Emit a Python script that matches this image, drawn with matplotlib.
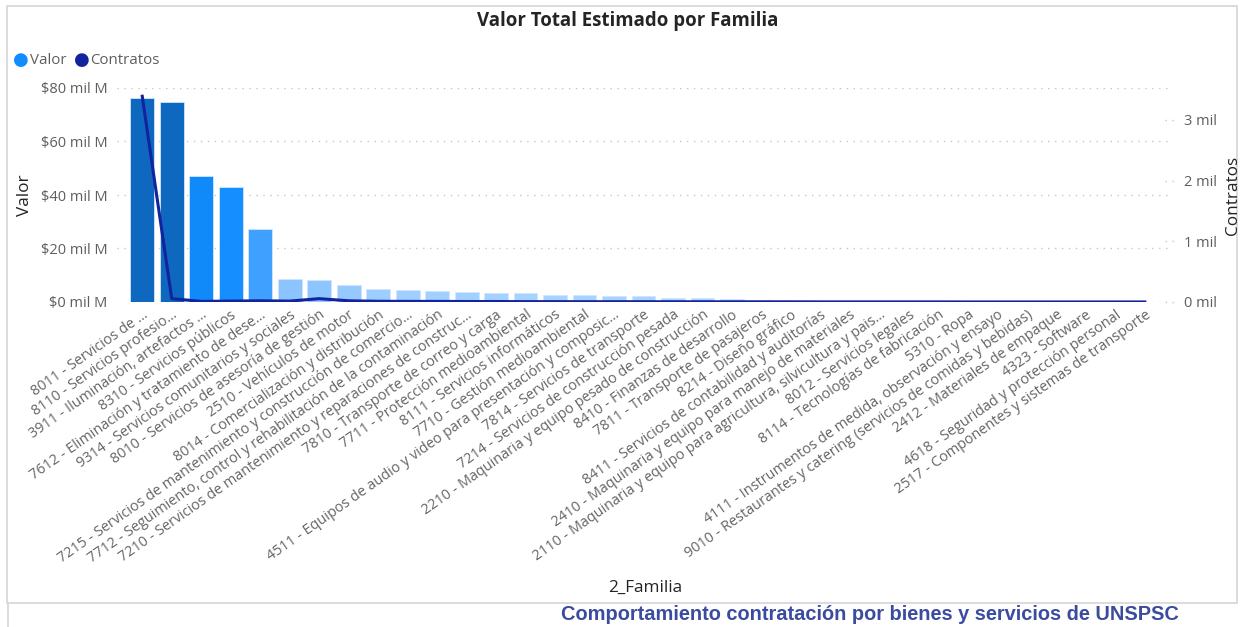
import numpy as np
import matplotlib.pyplot as plt
from matplotlib.colors import LinearSegmentedColormap
from matplotlib.patches import Rectangle
from matplotlib.lines import Line2D
import matplotlib.transforms as mtransforms

plt.rcParams['font.family'] = ['Open Sans', 'DejaVu Sans']

# datos
familias = [
    "8011 - Servicios de ...",
    "8110 - Servicios profesio...",
    "3911 - Iluminación, artefactos ...",
    "8310 - Servicios públicos",
    "7612 - Eliminación y tratamiento de dese...",
    "9314 - Servicios comunitarios y sociales",
    "8010 - Servicios de asesoría de gestión",
    "2510 - Vehículos de motor",
    "8014 - Comercialización y distribución",
    "7215 - Servicios de mantenimiento y construcción de comercio...",
    "7712 - Seguimiento, control y rehabilitación de la contaminación",
    "7210 - Servicios de mantenimiento y reparaciones de construc...",
    "7810 - Transporte de correo y carga",
    "7711 - Protección medioambiental",
    "8111 - Servicios informáticos",
    "7710 - Gestión medioambiental",
    "4511 - Equipos de audio y video para presentación y composic...",
    "7814 - Servicios de transporte",
    "7214 - Servicios de construcción pesada",
    "2210 - Maquinaria y equipo pesado de construcción",
    "8410 - Finanzas de desarrollo",
    "7811 - Transporte de pasajeros",
    "8214 - Diseño gráfico",
    "8411 - Servicios de contabilidad y auditorías",
    "2410 - Maquinaria y equipo para manejo de materiales",
    "2110 - Maquinaria y equipo para agricultura, silvicultura y pais...",
    "8012 - Servicios legales",
    "8114 - Tecnologías de fabricación",
    "5310 - Ropa",
    "4111 - Instrumentos de medida, observación y ensayo",
    "9010 - Restaurantes y catering (servicios de comidas y bebidas)",
    "2412 - Materiales de empaque",
    "4323 - Software",
    "4618 - Seguridad y protección personal",
    "2517 - Componentes y sistemas de transporte",
]
# valor en miles de millones ($ mil M)
valor = [76.3, 74.8, 47.0, 42.9, 27.4, 8.7, 8.2, 6.4, 4.7, 4.3, 4.0, 3.7,
         3.4, 3.2, 2.5, 2.6, 2.4, 2.2, 1.5, 1.4, 1.0, 0.75, 0.5, 0.35,
         0.25, 0.2, 0.15, 0.12, 0.1, 0.08, 0.06, 0.05, 0.04, 0.03, 0.02]
# numero de contratos
contratos = [3390, 55, 10, 15, 20, 15, 55, 20, 12, 10, 10, 8,
             8, 6, 6, 5, 5, 5, 4, 4, 3, 3, 3, 2,
             2, 2, 2, 2, 1, 1, 1, 1, 1, 1, 1]

W, H = 1244, 627
fig = plt.figure(figsize=(W / 100, H / 100), dpi=100)

# marco del visual
fig.patches.append(Rectangle((7 / W, 1 - 603 / H), (1237 - 7) / W, (603 - 6) / H,
                             transform=fig.transFigure, fill=False,
                             edgecolor='#D6D6D6', linewidth=1.2))
fig.lines.append(Line2D([8 / W, 8 / W], [0, 1 - 603 / H], transform=fig.transFigure,
                        color='#D6D6D6', linewidth=1.2))

ax = fig.add_axes([117 / W, 1 - 302 / H, (1170 - 117) / W, (302 - 88) / H])
x = np.arange(len(familias))

cmap = LinearSegmentedColormap.from_list('pbi', [
    (0.0, '#B3D9FF'), (0.11, '#8CC5FF'), (0.36, '#3FA0FF'),
    (0.58, '#118DFF'), (0.97, '#0F68C0'), (1.0, '#0F68C0')])
vmax = max(valor)
colores = [cmap(v / vmax) for v in valor]

ax.bar(x, valor, width=0.81, color=colores, edgecolor='#CFE6FF', linewidth=0.6, zorder=2)
ax.set_xlim(-0.5 - 10.5 / 29.5, len(familias) - 0.5 + 10.5 / 29.5)
ax.set_ylim(0, 80)
ax.set_yticks([0, 20, 40, 60, 80])
ax.set_yticklabels(['$0 mil M', '$20 mil M', '$40 mil M', '$60 mil M', '$80 mil M'])
ax.grid(axis='y', color='#C8C6C4', linestyle=(0, (1, 4)), linewidth=1, zorder=0)
ax.tick_params(axis='y', length=0, pad=7, labelsize=10.5, labelcolor='#605E5C')
ax.tick_params(axis='x', length=0, pad=4)
ax.set_xticks(x)
ax.set_xticklabels(familias, rotation=35, ha='right', rotation_mode='anchor',
                   fontsize=10.4, color='#666462')
for s in ax.spines.values():
    s.set_visible(False)

ax2 = ax.twinx()
ax2.plot(x, contratos, color='#12239E', linewidth=2.2, zorder=3)
ax2.set_ylim(0, 3525)
ax2.set_yticks([0, 1000, 2000, 3000])
ax2.set_yticklabels(['0 mil', '1 mil', '2 mil', '3 mil'])
ax2.tick_params(axis='y', length=0, pad=10, labelsize=10.5, labelcolor='#605E5C')
for s in ax2.spines.values():
    s.set_visible(False)
trans = mtransforms.blended_transform_factory(ax2.transAxes, ax2.transData)
for t in [0, 1000, 2000, 3000]:
    ax2.plot([0.995, 1.004], [t, t], transform=trans, color='#C8C6C4',
             linestyle=(0, (1, 4)), linewidth=1, clip_on=False)

# textos
fig.text(628 / W, 1 - 21 / H, 'Valor Total Estimado por Familia', ha='center', va='center',
         fontsize=13.4, fontweight='bold', color='#252423')
fig.text(25 / W, 1 - 195 / H, 'Valor', rotation=90, ha='center', va='center',
         fontsize=12.3, color='#252423')
fig.text(1233 / W, 1 - 195 / H, 'Contratos', rotation=90, ha='center', va='center',
         fontsize=12.3, color='#252423')
fig.text(645 / W, 1 - 588 / H, '2_Familia', ha='center', va='center',
         fontsize=12.3, color='#252423')

# leyenda
fig.text(21 / W, 1 - 60 / H, '\u25CF', color='#118DFF', ha='center', va='center', fontsize=13,
         family=['DejaVu Sans'])
fig.text(30 / W, 1 - 60 / H, 'Valor', color='#605E5C', ha='left', va='center', fontsize=10.8)
fig.text(82 / W, 1 - 60 / H, '\u25CF', color='#12239E', ha='center', va='center', fontsize=13,
         family=['DejaVu Sans'])
fig.text(90 / W, 1 - 60 / H, 'Contratos', color='#605E5C', ha='left', va='center', fontsize=10.8)

fig.text(870 / W, 1 - 615 / H, 'Comportamiento contratación por bienes y servicios de UNSPSC',
         ha='center', va='center', fontsize=14.4, fontweight='bold', color='#3B4BA0',
         family=['Liberation Sans', 'DejaVu Sans'])

fig.savefig('out.png', dpi=100)
